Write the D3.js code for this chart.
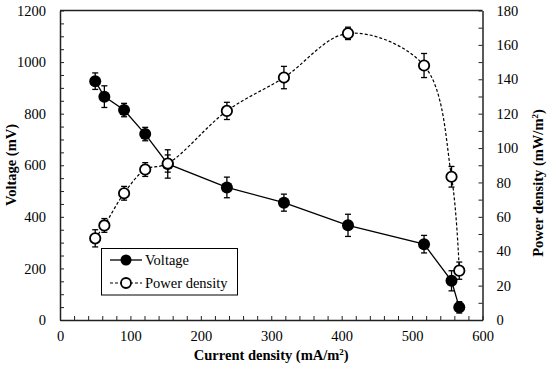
<!DOCTYPE html>
<html><head><meta charset="utf-8">
<script src="https://cdn.jsdelivr.net/npm/d3@7"></script>
<style>body{margin:0;background:#fff;}</style></head>
<body><svg id="c" width="550" height="370"></svg>
<script>
const current = [50, 63, 91, 121, 153, 237, 318, 409, 517, 556, 567];
const voltage = [926, 866, 814, 721, 605, 514, 455, 367, 294, 152, 49];
const voltageErr = [32, 42, 26, 26, 55, 40, 33, 43, 34, 39, 22];
const power = [47.5, 55, 73.7, 87.5, 91, 121.6, 141, 166.7, 148, 83.3, 28.7];
const powerErr = [5, 4, 4, 4, 5, 5, 6.5, 3.6, 7, 6, 5];
const xTicks = d3.range(0, 601, 20);
const yTicks = d3.range(0, 1201, 50);
const y2Ticks = d3.range(0, 181, 10);

const FONT = "Liberation Serif";
const svg = d3.select("#c");
svg.append("rect").attr("width",550).attr("height",370).attr("fill","#fff");
const L=60, R=482.5, T=10.5, B=320;
const x = d3.scaleLinear().domain([0,600]).range([L,R]);
const y = d3.scaleLinear().domain([0,1200]).range([B,T]);
const y2 = d3.scaleLinear().domain([0,180]).range([B,T]);
const axColor="#222";

svg.append("line").attr("x1",L).attr("x2",R).attr("y1",T).attr("y2",T).attr("stroke",axColor).attr("stroke-width",1.5);

function styleAxis(g){
  g.attr("font-family",FONT).attr("font-size",14.5);
  g.select(".domain").attr("stroke",axColor).attr("stroke-width",1.5);
  g.selectAll(".tick line").attr("stroke",axColor).attr("stroke-width",1);
  g.selectAll("text").attr("font-family",FONT).attr("font-size",14.5).attr("fill","#000");
}
const gx = svg.append("g").attr("transform",`translate(0,${B})`)
  .call(d3.axisBottom(x).tickValues(xTicks).tickSizeInner(-4).tickSizeOuter(0).tickPadding(11)
    .tickFormat(d=> d%100===0 ? d : ""));
styleAxis(gx);
const gy = svg.append("g").attr("transform",`translate(${L},0)`)
  .call(d3.axisLeft(y).tickValues(yTicks).tickSizeInner(-4).tickSizeOuter(0).tickPadding(14)
    .tickFormat(d=> d%200===0 ? d : ""));
styleAxis(gy);
const gy2 = svg.append("g").attr("transform",`translate(${R},0)`)
  .call(d3.axisRight(y2).tickValues(y2Ticks).tickSizeInner(-4).tickSizeOuter(0).tickPadding(14)
    .tickFormat(d=> d%20===0 ? d : ""));
styleAxis(gy2);

svg.append("text").attr("x",(L+R)/2).attr("y",360).attr("text-anchor","middle")
  .attr("font-family",FONT).attr("font-size",14.5).attr("font-weight","bold")
  .html('Current density (mA/m<tspan baseline-shift="super" font-size="9">2</tspan>)');
svg.append("text").attr("transform","translate(16,165) rotate(-90)").attr("text-anchor","middle")
  .attr("font-family",FONT).attr("font-size",14.5).attr("font-weight","bold").text("Voltage (mV)");
svg.append("text").attr("transform","translate(543,183) rotate(-90)").attr("text-anchor","middle")
  .attr("font-family",FONT).attr("font-size",14.5).attr("font-weight","bold")
  .html('Power density (mW/m<tspan baseline-shift="super" font-size="9">2</tspan>)');

const idx = d3.range(current.length);
svg.append("path").datum(idx)
  .attr("d", d3.line().x(i=>x(current[i])).y(i=>y2(power[i])).curve(d3.curveCatmullRom.alpha(0.5)))
  .attr("fill","none").attr("stroke","#000").attr("stroke-width",1.2).attr("stroke-dasharray","3,2");
svg.append("path").datum(idx)
  .attr("d", d3.line().x(i=>x(current[i])).y(i=>y(voltage[i])))
  .attr("fill","none").attr("stroke","#000").attr("stroke-width",1.3);

function errBars(vals, errs, sc){
  const g = svg.append("g").attr("stroke","#000").attr("stroke-width",1.3);
  idx.forEach(i=>{
    const cx=x(current[i]), y1=sc(vals[i]+errs[i]), y0=sc(vals[i]-errs[i]);
    g.append("line").attr("x1",cx).attr("x2",cx).attr("y1",y1).attr("y2",y0);
    g.append("line").attr("x1",cx-3).attr("x2",cx+3).attr("y1",y1).attr("y2",y1);
    g.append("line").attr("x1",cx-3).attr("x2",cx+3).attr("y1",y0).attr("y2",y0);
  });
}
errBars(voltage, voltageErr, y);
errBars(power, powerErr, y2);

svg.append("g").selectAll("circle").data(idx).join("circle")
  .attr("cx",i=>x(current[i])).attr("cy",i=>y(voltage[i])).attr("r",6).attr("fill","#000");
svg.append("g").selectAll("circle").data(idx).join("circle")
  .attr("cx",i=>x(current[i])).attr("cy",i=>y2(power[i])).attr("r",5.2)
  .attr("fill","#fff").attr("stroke","#000").attr("stroke-width",1.8);

const lg = svg.append("g");
lg.append("rect").attr("x",101.5).attr("y",248.5).attr("width",136).attr("height",46.5)
  .attr("fill","#fff").attr("stroke","#000").attr("stroke-width",1);
lg.append("line").attr("x1",110).attr("x2",142).attr("y1",260).attr("y2",260).attr("stroke","#000").attr("stroke-width",1.3);
lg.append("circle").attr("cx",126).attr("cy",260).attr("r",5.5).attr("fill","#000");
lg.append("text").attr("x",145).attr("y",265).attr("font-family",FONT).attr("font-size",14.5).text("Voltage");
lg.append("line").attr("x1",110).attr("x2",142).attr("y1",283).attr("y2",283).attr("stroke","#000").attr("stroke-width",1.2).attr("stroke-dasharray","3,2");
lg.append("circle").attr("cx",126).attr("cy",283).attr("r",5).attr("fill","#fff").attr("stroke","#000").attr("stroke-width",1.8);
lg.append("text").attr("x",145).attr("y",288).attr("font-family",FONT).attr("font-size",14.5).text("Power density");
</script></body></html>
